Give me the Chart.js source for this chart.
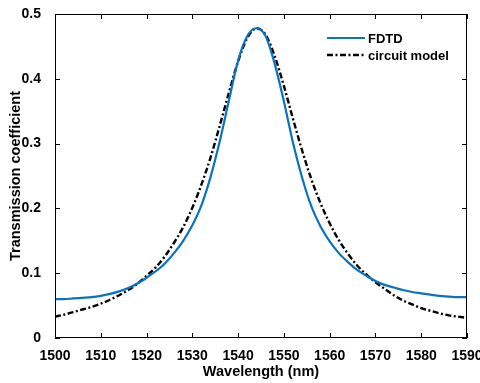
<!DOCTYPE html>
<html>
<head>
<meta charset="utf-8">
<script src="https://cdn.jsdelivr.net/npm/chart.js@4/dist/chart.umd.min.js"></script>
<style>
  html, body { margin: 0; padding: 0; background: #fff; }
  #wrap { width: 480px; height: 383px; }
</style>
</head>
<body>
<div id="wrap"><canvas id="grafico"></canvas></div>
<script>
/* dados */
const comprimentos = [1500,1502,1504,1506,1508,1510,1512,1514,1516,1518,1520,1522,1524,1526,1528,1530,1532,1534,1536,1538,1540,1542,1544,1546,1548,1550,1552,1554,1556,1558,1560,1562,1564,1566,1568,1570,1572,1574,1576,1578,1580,1582,1584,1586,1588,1590]
const fdtd = [0.060,0.060,0.061,0.062,0.063,0.065,0.068,0.072,0.077,0.084,0.093,0.103,0.115,0.131,0.150,0.174,0.205,0.249,0.304,0.367,0.428,0.466,0.478,0.466,0.423,0.365,0.301,0.247,0.203,0.172,0.149,0.131,0.117,0.105,0.096,0.088,0.082,0.078,0.074,0.071,0.069,0.067,0.065,0.064,0.063,0.063]
const circuito = [0.033,0.036,0.040,0.044,0.048,0.053,0.059,0.066,0.074,0.084,0.096,0.109,0.126,0.147,0.171,0.201,0.237,0.279,0.328,0.379,0.427,0.463,0.478,0.468,0.435,0.389,0.338,0.289,0.245,0.208,0.177,0.151,0.130,0.112,0.098,0.086,0.076,0.066,0.058,0.052,0.046,0.042,0.038,0.035,0.033,0.031]
const ticksX = [1500,1510,1520,1530,1540,1550,1560,1570,1580,1590]
const ticksY = [0,0.1,0.2,0.3,0.4,0.5]

const fonte = "'Liberation Sans', Arial, sans-serif"
const azul = '#0a72c0'
const tracoCircuito = [6, 2.5, 2, 2.5]

function pontos(valores){
    return comprimentos.map((x, i) => ({x: x, y: valores[i]}))
}

/* caixa com marcas para dentro + legenda */
const caixa = {
    id: 'caixa',
    afterDatasetsDraw(chart){
        const {ctx, chartArea: a, scales} = chart
        ctx.save()
        ctx.strokeStyle = '#000'
        ctx.lineWidth = 1
        ctx.strokeRect(a.left + 0.5, a.top + 0.5, a.right - a.left - 1, a.bottom - a.top - 1)
        ctx.beginPath()
        ticksX.forEach(v => {
            const x = Math.round(scales.x.getPixelForValue(v)) + 0.5
            ctx.moveTo(x, a.bottom); ctx.lineTo(x, a.bottom - 5)
            ctx.moveTo(x, a.top); ctx.lineTo(x, a.top + 5)
        })
        ticksY.forEach(v => {
            const y = Math.round(scales.y.getPixelForValue(v)) + 0.5
            ctx.moveTo(a.left, y); ctx.lineTo(a.left + 5, y)
            ctx.moveTo(a.right, y); ctx.lineTo(a.right - 5, y)
        })
        ctx.stroke()

        // legenda
        ctx.font = 'bold 13px ' + fonte
        ctx.textBaseline = 'middle'
        ctx.fillStyle = '#000'
        chart.data.datasets.forEach((ds, i) => {
            const y = 38 + i * 17
            ctx.beginPath()
            ctx.strokeStyle = ds.borderColor
            ctx.lineWidth = ds.borderWidth
            ctx.setLineDash(ds.borderDash || [])
            ctx.moveTo(327, y); ctx.lineTo(365, y)
            ctx.stroke()
            ctx.setLineDash([])
            ctx.fillText(ds.label, 368, y + 1)
        })
        ctx.restore()
    }
}

function semPadding(s){
    s.paddingLeft = 0; s.paddingRight = 0; s.paddingTop = 0; s.paddingBottom = 0
}

const grafico = new Chart(document.getElementById('grafico'), {
    type: 'line',
    data: {
      datasets: [{
        label: 'FDTD',
        data: pontos(fdtd),
        borderColor: azul,
        borderWidth: 2.2,
        pointRadius: 0,
        cubicInterpolationMode: 'monotone'
      }, {
        label: 'circuit model',
        data: pontos(circuito),
        borderColor: '#000',
        borderWidth: 2.4,
        borderDash: tracoCircuito,
        pointRadius: 0,
        cubicInterpolationMode: 'monotone'
      }]
    },
    options: {
      responsive: true,
      maintainAspectRatio: false,
      animation: false,
      layout: { autoPadding: false, padding: { top: 14, right: 13, left: 0, bottom: 0 } },
      plugins: { legend: { display: false }, tooltip: { enabled: false } },
      scales: {
        x: {
          type: 'linear', min: 1500, max: 1590,
          afterFit: s => { s.height = 45; semPadding(s) },
          afterBuildTicks: s => { s.ticks = ticksX.map(v => ({value: v})) },
          grid: { display: false },
          border: { display: false },
          ticks: { color: '#000', padding: 2, maxRotation: 0, autoSkip: false,
                   callback: v => String(v),
                   font: { family: fonte, size: 14, weight: 'bold' } },
          title: { display: true, text: 'Wavelength (nm)', color: '#000',
                   padding: { top: 0, bottom: 2 },
                   font: { family: fonte, size: 14.5, weight: 'bold' } }
        },
        y: {
          min: 0, max: 0.5,
          afterFit: s => { s.width = 55; semPadding(s) },
          afterBuildTicks: s => { s.ticks = ticksY.map(v => ({value: v})) },
          grid: { display: false },
          border: { display: false },
          ticks: { color: '#000', padding: 6,
                   callback: v => v === 0 ? '0' : v.toFixed(1),
                   font: { family: fonte, size: 14, weight: 'bold' } },
          title: { display: true, text: 'Transmission coefficient', color: '#000',
                   padding: { top: 7, bottom: 0 },
                   font: { family: fonte, size: 14.5, weight: 'bold' } }
        }
      }
    },
    plugins: [caixa]
});
</script>
</body>
</html>
